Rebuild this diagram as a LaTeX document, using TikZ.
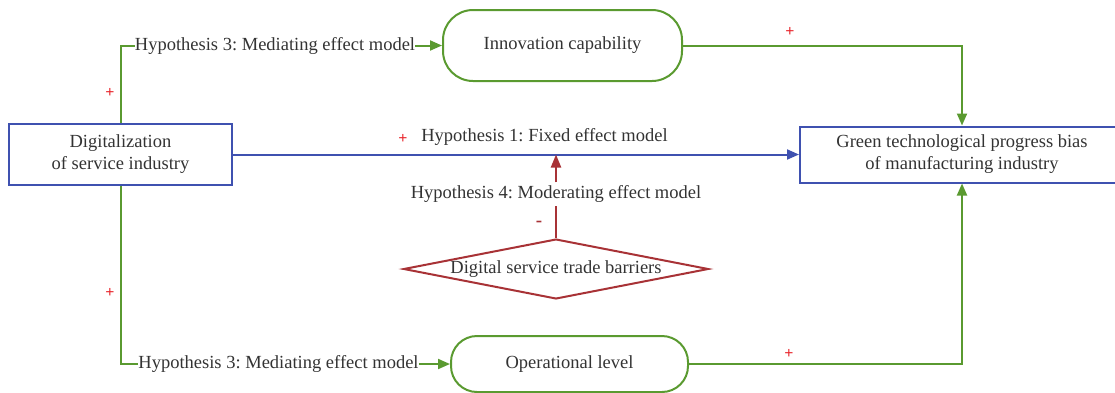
\documentclass[tikz,border=0pt]{standalone}
\usepackage{fontspec}
\setmainfont{Liberation Serif}
\usetikzlibrary{arrows.meta,shapes.geometric}

\definecolor{boxblue}{HTML}{3F51B0}
\definecolor{linkgreen}{HTML}{5A9A30}
\definecolor{modred}{HTML}{A83236}
\definecolor{signred}{HTML}{E8262C}
\definecolor{txt}{HTML}{333333}

\tikzset{
  every node/.style={text=txt, font=\rmfamily\fontsize{18.5}{22}\selectfont},
  mainbox/.style={draw=boxblue, line width=2pt, rectangle, align=center, inner sep=0pt},
  capsule/.style={draw=linkgreen, line width=2pt, rectangle, rounded corners=30pt, inner sep=0pt},
  barrier/.style={draw=modred, line width=2pt, diamond, aspect=4.9, inner sep=0pt, minimum width=305pt},
  hyp/.style={inner sep=0pt, anchor=center},
  glink/.style={draw=linkgreen, line width=2pt},
  garrow/.style={glink, -{Triangle[length=12pt,width=10pt]}},
  barrow/.style={draw=boxblue, line width=2pt, -{Triangle[length=12pt,width=10pt]}},
  rlink/.style={draw=modred, line width=2.2pt},
  rarrow/.style={rlink, -{Triangle[length=13pt,width=10pt]}},
  sign/.style={text=signred, font=\rmfamily\bfseries\fontsize{16}{16}\selectfont, inner sep=0pt},
  minus/.style={text=modred, font=\rmfamily\bfseries\fontsize{19}{19}\selectfont, inner sep=0pt}
}

\begin{document}
\begin{tikzpicture}[x=1pt, y=-1pt]
\frenchspacing
\useasboundingbox (0,0) rectangle (1115,392);

% boxes
\node[mainbox, minimum width=223pt, minimum height=61pt] (dig) at (120.5,154.5)
  {Digitalization\\of service industry};
\node[mainbox, minimum width=324pt, minimum height=56pt] (gtp) at (962,154.5)
  {Green technological progress bias\\of manufacturing industry};
\node[capsule, minimum width=239pt, minimum height=71pt] (innov) at (562.5,45.5)
  {Innovation capability};
\node[capsule, rounded corners=26pt, minimum width=237pt, minimum height=56pt] (oper) at (569.5,364)
  {Operational level};
\node[barrier] (dstb) at (556,269) {Digital service trade barriers};

% hypothesis labels
\node[hyp] (h3top) at (275,45.5) {Hypothesis 3: Mediating effect model};
\node[hyp] (h3bot) at (278.5,364) {Hypothesis 3: Mediating effect model};
\node[hyp] (h1) at (544.5,137) {Hypothesis 1: Fixed effect model};
\node[hyp, inner ysep=3pt] (h4) at (556,194) {Hypothesis 4: Moderating effect model};

% mediating paths
\draw[glink] (dig.north) |- (h3top.west);
\draw[garrow] (h3top.east) -- (innov.west);
\draw[garrow] (innov.east) -| (gtp.north);
\draw[glink] (dig.south) |- (h3bot.west);
\draw[garrow] (h3bot.east) -- (oper.west);
\draw[garrow] (oper.east) -| (gtp.south);

% direct effect
\draw[barrow] (dig.east) -- (gtp.west);

% moderating effect
\coordinate (mod) at (h4.north |- dig.east);
\draw[rlink] (dstb.north) -- (h4.south);
\draw[rarrow] (h4.north) -- (mod);

% signs
\node[sign] (s1) at (110,93) {+};
\node[sign] (s2) at (110,293) {+};
\node[sign] (s3) at (790,32) {+};
\node[sign] (s4) at (789,354) {+};
\node[sign] (s5) at (403,139) {+};
\node[minus] (s6) at (539,224) {-};
\end{tikzpicture}
\end{document}
